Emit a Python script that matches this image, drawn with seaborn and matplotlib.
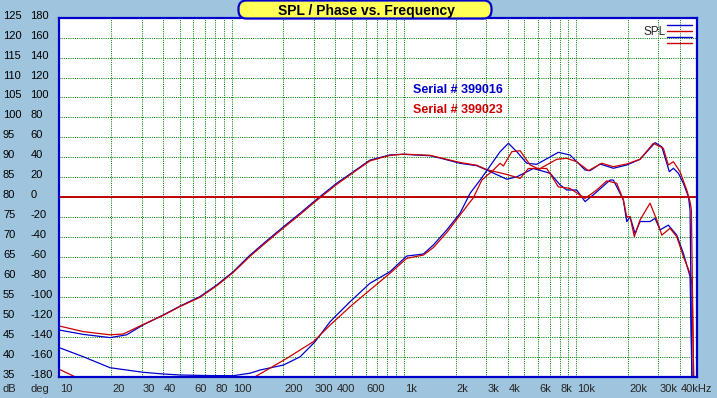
import matplotlib
matplotlib.use('Agg')
import numpy as np
import pandas as pd
import matplotlib.pyplot as plt
import seaborn as sns
from matplotlib.lines import Line2D
from matplotlib.patches import FancyBboxPatch
from matplotlib.ticker import NullLocator
from matplotlib.transforms import blended_transform_factory, offset_copy, IdentityTransform

# --- SPL, serial 399016 (blue) ---
spl_016_freq = [10, 13.8, 19.7, 24.6, 30.7, 40.2, 50.2, 65.6, 82, 102, 128, 160, 200, 250, 312,
                407, 509, 635, 830, 993, 1417, 1694, 2116, 2649, 3026, 3954, 4519, 5637, 7049,
                8051, 8806, 10060, 11250, 12570, 15710, 16420, 18770, 19630, 20520, 21930,
                23450, 26800, 28660, 30650, 34220, 38300, 41860, 45760, 46900]
spl_016_db = [46.7, 45.6, 44.8, 45.5, 48.0, 50.5, 52.7, 55.1, 58.0, 61.3, 65.5, 69.1, 72.6, 76.0, 79.5,
              83.5, 86.4, 89.3, 90.6, 90.75, 90.4, 89.6, 88.5, 87.9, 86.8, 84.5, 85.1, 87.2, 86.0,
              83.1, 81.8, 81.8, 78.9, 80.6, 84.3, 84.3, 79.3, 73.9, 75.1, 70.9,
              73.9, 73.9, 74.7, 71.8, 73.0, 70.5, 65.9, 60.1, 35.0]

# --- SPL, serial 399023 (red) ---
spl_023_freq = [10, 13.8, 19.7, 23.5, 30.7, 40.2, 50.2, 65.6, 82, 102, 128, 160, 200, 250, 312,
                407, 509, 635, 830, 993, 1417, 1694, 2116, 2649, 3026, 3954, 4723, 5276, 6743,
                7872, 9204, 11250, 13140, 15030, 17170, 18770, 19630, 20520, 21730, 23450,
                26800, 29330, 31360, 35000, 38300, 41860, 45760, 47000, 48000]
spl_023_db = [47.7, 46.3, 45.5, 45.7, 48.1, 50.4, 52.6, 54.9, 57.8, 61.1, 65.2, 68.8, 72.3, 75.7, 79.2,
              83.2, 86.2, 89.1, 90.5, 90.8, 90.5, 89.7, 88.7, 88.0, 86.9, 85.7, 84.7, 87.2, 87.2,
              82.6, 82.2, 79.7, 81.8, 84.1, 83.5, 79.3, 75.1, 75.1, 70.1, 74.3,
              78.5, 74.3, 70.5, 72.2, 70.1, 65.1, 60.9, 58.0, 35.0]

# --- Phase, serial 399016 (blue) ---
ph_016_freq = [10, 13.8, 19.7, 30.7, 40.2, 50.2, 70, 102, 128, 146, 200, 250, 305, 373, 487, 635,
               830, 1038, 1297, 1482, 1771, 2116, 2420, 2767, 3093, 3613, 4040, 4519, 5161, 5902,
               7872, 9204, 11250, 12020, 13750, 16420, 19630, 23450, 28660, 31360, 34680,
               36610, 39150, 41860, 44770, 45760, 46900]
ph_016_deg = [-150.9, -160.0, -171.0, -175.6, -177.3, -178.3, -178.8, -179.0, -176.5, -173.3, -168.3,
              -160.0, -144.9, -124.8, -104.8, -86.3, -74.7, -59.0, -57.0, -47.9, -32.9, -16.1, 3.9,
              17.2, 29.0, 45.6, 54.1, 45.6, 34.0, 33.0, 45.0, 42.3, 27.3, 26.6, 33.3, 29.0, 32.3,
              38.0, 54.7, 50.6, 25.6, 29.0, 24.0, 13.9, 0.5, -12.8, -180.0]

# --- Phase, serial 399023 (red) ---
ph_023_freq = [10, 12.3, 137, 160, 209, 298, 373, 487, 635, 830, 1038, 1297, 1482, 1771, 2116,
               2531, 2831, 3306, 3613, 3777, 4224, 4723, 5395, 6109, 6448, 7708, 8806, 10060,
               11760, 14060, 16420, 19630, 23450, 28030, 32020, 34220, 36610, 40000, 43770,
               45760, 46570, 48000]
ph_023_deg = [-172.6, -180.0, -180.0, -173.3, -161.6, -144.9, -128.2, -109.8, -93.0, -76.3, -61.3,
              -58.0, -50.5, -35.5, -17.9, -0.5, 17.2, 27.3, 34.0, 31.3, 45.6, 46.6, 32.3, 28.0,
              30.6, 38.0, 39.0, 35.6, 26.6, 34.0, 30.6, 33.3, 38.0, 54.1, 49.0, 32.3, 35.6, 25.6,
              7.2, -4.5, -12.8, -180.0]

db_ticks = list(range(125, 30, -5))
deg_ticks = list(range(180, -181, -20))
x_tick_freqs = [10, 20, 30, 40, 60, 80, 100, 200, 300, 400, 600, 1000, 2000, 3000, 4000,
                6000, 8000, 10000, 20000, 30000, 40000]
x_tick_labels = ['10', '20', '30', '40', '60', '80', '100', '200', '300', '400', '600', '1k',
                 '2k', '3k', '4k', '6k', '8k', '10k', '20k', '30k', '40kHz']
grid_freqs = [m * 10 ** e for e in range(1, 5) for m in range(1, 10) if m * 10 ** e <= 40000]

BLUE = '#0000cc'
RED = '#cc0000'
BG = '#9fc5de'
W, H = 717, 398

sns.set_style('white')
plt.rcParams['font.family'] = ['Liberation Sans', 'DejaVu Sans']

fig = plt.figure(figsize=(W / 100, H / 100), dpi=100, facecolor=BG)
left, right, top, bottom = 59.3, 696.7, 17.7, 376.7
ax = fig.add_axes([left / W, (H - bottom) / H, (right - left) / W, (bottom - top) / H])
ax.set_facecolor('white')
ax.set_xscale('log')
ax.set_xlim(10, 50000)
ax.set_ylim(35, 125)
ax.set_xticks(grid_freqs)
ax.xaxis.set_minor_locator(NullLocator())
ax.set_yticks(db_ticks)
ax.grid(True, color='#008000', linestyle=(0, (1, 1.2)), linewidth=0.72)
ax.set_axisbelow(True)
ax.tick_params(length=0, labelleft=False, labelbottom=False)
for s in ax.spines.values():
    s.set_visible(False)

ax2 = ax.twinx()
ax2.set_ylim(-180, 180)
ax2.tick_params(length=0, labelright=False, labelleft=False)
ax2.xaxis.set_minor_locator(NullLocator())
for s in ax2.spines.values():
    s.set_color(BLUE)
    s.set_linewidth(1.6)
    s.set_visible(True)
ax2.axhline(0, color='#c00000', lw=1.4, zorder=1)

sns.lineplot(x=spl_016_freq, y=spl_016_db, ax=ax, color=BLUE, lw=0.9, sort=False, estimator=None)
sns.lineplot(x=spl_023_freq, y=spl_023_db, ax=ax, color=RED, lw=0.9, sort=False, estimator=None)
sns.lineplot(x=ph_016_freq, y=ph_016_deg, ax=ax2, color=BLUE, lw=0.9, sort=False, estimator=None)
sns.lineplot(x=ph_023_freq, y=ph_023_deg, ax=ax2, color=RED, lw=0.9, sort=False, estimator=None)
ax.set_xlabel('')
ax.set_ylabel('')
ax2.set_ylabel('')
ax2.set_xlim(10, 50000)

# left axis labels: dB column and deg column
tr_db = offset_copy(blended_transform_factory(fig.transFigure, ax.transData), fig=fig, y=2, units='dots')
tr_deg = offset_copy(blended_transform_factory(fig.transFigure, ax2.transData), fig=fig, y=2, units='dots')
for v in db_ticks:
    fig.text(3 / W, v, str(v), transform=tr_db, ha='left', va='center', fontsize=8, color='black')
for v in deg_ticks:
    fig.text(30.5 / W, v, str(v), transform=tr_deg, ha='left', va='center', fontsize=8, color='black')

# frequency labels
tr_x = offset_copy(blended_transform_factory(ax.transData, fig.transFigure), fig=fig, x=1, units='dots')
for f, lab in zip(x_tick_freqs, x_tick_labels):
    fig.text(f, 1 - 389 / H, lab, transform=tr_x, ha='left', va='center', fontsize=8)
fig.text(3 / W, 1 - 389 / H, 'dB', ha='left', va='center', fontsize=8)
fig.text(30.5 / W, 1 - 389 / H, 'deg', ha='left', va='center', fontsize=8)

# title box
box = FancyBboxPatch((238.5, H - 18.5), 253, 18, boxstyle='round,pad=0,rounding_size=8',
                     fc='#ffff55', ec=BLUE, lw=1.6, transform=IdentityTransform(), zorder=5)
fig.add_artist(box)
fig.text(366 / W, 1 - 10.5 / H, 'SPL / Phase vs. Frequency', ha='center', va='center',
         fontsize=10, fontweight='bold', color='black', zorder=6)

# serial labels
fig.text(413 / W, 1 - 90 / H, 'Serial # 399016', ha='left', va='center', fontsize=9,
         fontweight='bold', color=BLUE)
fig.text(413 / W, 1 - 110 / H, 'Serial # 399023', ha='left', va='center', fontsize=9,
         fontweight='bold', color=RED)

# SPL legend key
fig.text(643 / W, 1 - 32 / H, 'SPL', ha='left', va='center', fontsize=8.5)
for yy, c in zip([25, 31, 37, 43], [BLUE, RED, BLUE, RED]):
    fig.add_artist(Line2D([667, 692], [H - yy + 0.5, H - yy + 0.5], color=c, lw=1.0,
                          transform=IdentityTransform()))

fig.savefig('out.png', dpi=100, facecolor=fig.get_facecolor())
